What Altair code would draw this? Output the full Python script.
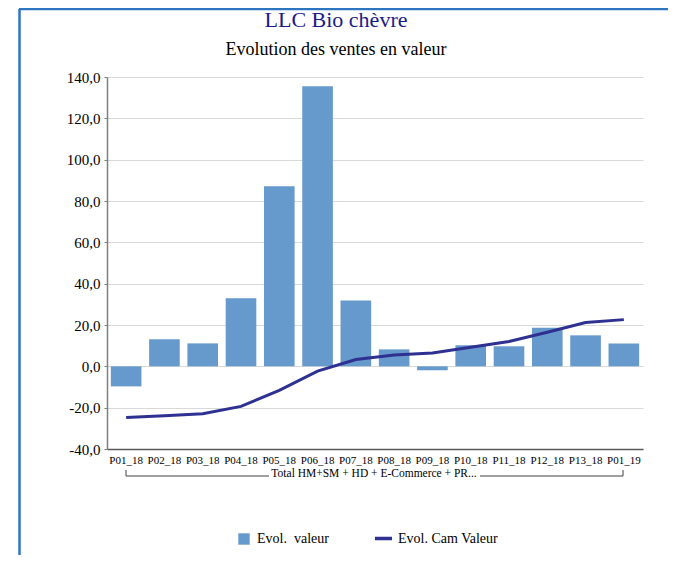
import altair as alt
import pandas as pd

periods = ["P01_18", "P02_18", "P03_18", "P04_18", "P05_18", "P06_18", "P07_18",
           "P08_18", "P09_18", "P10_18", "P11_18", "P12_18", "P13_18", "P01_19"]
evol_valeur = [-9.7, 13.1, 11.1, 32.9, 87.1, 135.5, 31.9, 8.2, -1.9, 10.2, 9.7, 18.7, 15.0, 11.0]
evol_cam_valeur = [-24.8, -23.9, -22.9, -19.4, -11.6, -2.3, 3.3, 5.5, 6.5, 9.2, 12.0, 16.5, 21.2, 22.6]

bar_name = "Evol.\u00a0 valeur"
line_name = "Evol. Cam Valeur"
group_label = "Total HM+SM + HD + E-Commerce + PR..."
title_text = "LLC Bio chèvre"
subtitle_text = "Evolution des ventes en valeur"

df = pd.DataFrame({"period": periods, "valeur": evol_valeur, "cam": evol_cam_valeur,
                   "s_bar": bar_name, "s_line": line_name})
one = pd.DataFrame({"k": [0]})

BAR_COLOR = "#6699CC"
LINE_COLOR = "#2E3192"
SERIF = "Liberation Serif"

x_enc = alt.X("period:N", sort=periods, title=None,
              scale=alt.Scale(paddingInner=0.2, paddingOuter=0.1),
              axis=alt.Axis(labelAngle=0, labelFont=SERIF, labelFontSize=11,
                            labelColor="#000000", ticks=False, domain=True,
                            domainColor="#595959", domainWidth=1.5, labelPadding=5,
                            grid=False))
y_scale = alt.Scale(domain=[-40, 140], nice=False, zero=False)
y_axis = alt.Axis(values=list(range(-40, 141, 20)), title=None,
                  labelExpr="(datum.value < 0 ? '-' : '') + replace(format(abs(datum.value), '.1f'), '.', ',')",
                  labelFont=SERIF, labelFontSize=15, labelColor="#000000",
                  grid=True, gridColor="#D9D9D9", gridWidth=1.2,
                  domainColor="#7F7F7F", domainWidth=1.5, tickColor="#7F7F7F",
                  tickSize=3, labelPadding=4)

bars = alt.Chart(df).mark_bar(color=BAR_COLOR).encode(
    x=x_enc,
    y=alt.Y("valeur:Q", scale=y_scale, axis=y_axis),
    fill=alt.Fill("s_bar:N", scale=alt.Scale(domain=[bar_name], range=[BAR_COLOR]),
                  legend=alt.Legend(orient="none", legendX=130, legendY=455, title=None,
                                    labelFont=SERIF, labelFontSize=14, labelColor="#000000",
                                    symbolType="square", symbolSize=130, symbolStrokeWidth=0,
                                    labelOffset=6)),
)

line = alt.Chart(df).mark_line(color=LINE_COLOR, strokeWidth=3).encode(
    x=alt.X("period:N", sort=periods),
    y=alt.Y("cam:Q", scale=y_scale),
    stroke=alt.Stroke("s_line:N", scale=alt.Scale(domain=[line_name], range=[LINE_COLOR]),
                      legend=alt.Legend(orient="none", legendX=266, legendY=451, title=None,
                                        labelFont=SERIF, labelFontSize=14, labelColor="#000000",
                                        symbolType="stroke", symbolSize=289, symbolStrokeWidth=3.5,
                                        labelOffset=4)),
)

def txt(s, x, y, size, color, font):
    return alt.Chart(one).mark_text(font=font, fontSize=size, color=color,
                                    align="center", baseline="middle").encode(
        x=alt.value(x), y=alt.value(y), text=alt.value(s))

def hrule(x1, x2, y, color="#404040", w=1):
    return alt.Chart(one).mark_rule(color=color, strokeWidth=w).encode(
        x=alt.value(x1), x2=alt.value(x2), y=alt.value(y))

def vrule(x, y1, y2, color="#404040", w=1):
    return alt.Chart(one).mark_rule(color=color, strokeWidth=w).encode(
        x=alt.value(x), y=alt.value(y1), y2=alt.value(y2))

title = txt(title_text, 229, -57, 22, "#1B1B8A", SERIF)
subtitle = txt(subtitle_text, 229, -27, 18, "#000000", SERIF)
group = txt(group_label, 267, 397, 11.5, "#000000", SERIF)

bracket = [
    hrule(19, 162, 399), hrule(373, 516, 399),
    vrule(19, 393, 399), vrule(516, 393, 399),
]

BORDER = "#2E75C0"
border = [
    vrule(-87.5, -68, 478, BORDER, 2.5),
    hrule(-88, 561, -68, BORDER, 2.5),
]

chart = alt.layer(bars, line, title, subtitle, group, *bracket, *border).resolve_scale(
    fill="independent", stroke="independent"
).properties(
    width=536, height=372,
    autosize=alt.AutoSizeParams(type="none"),
    padding={"left": 99, "top": 69, "right": 25, "bottom": 106},
).configure_view(stroke=None)

chart.save("out.html", embed_options={"renderer": "svg", "actions": False})
